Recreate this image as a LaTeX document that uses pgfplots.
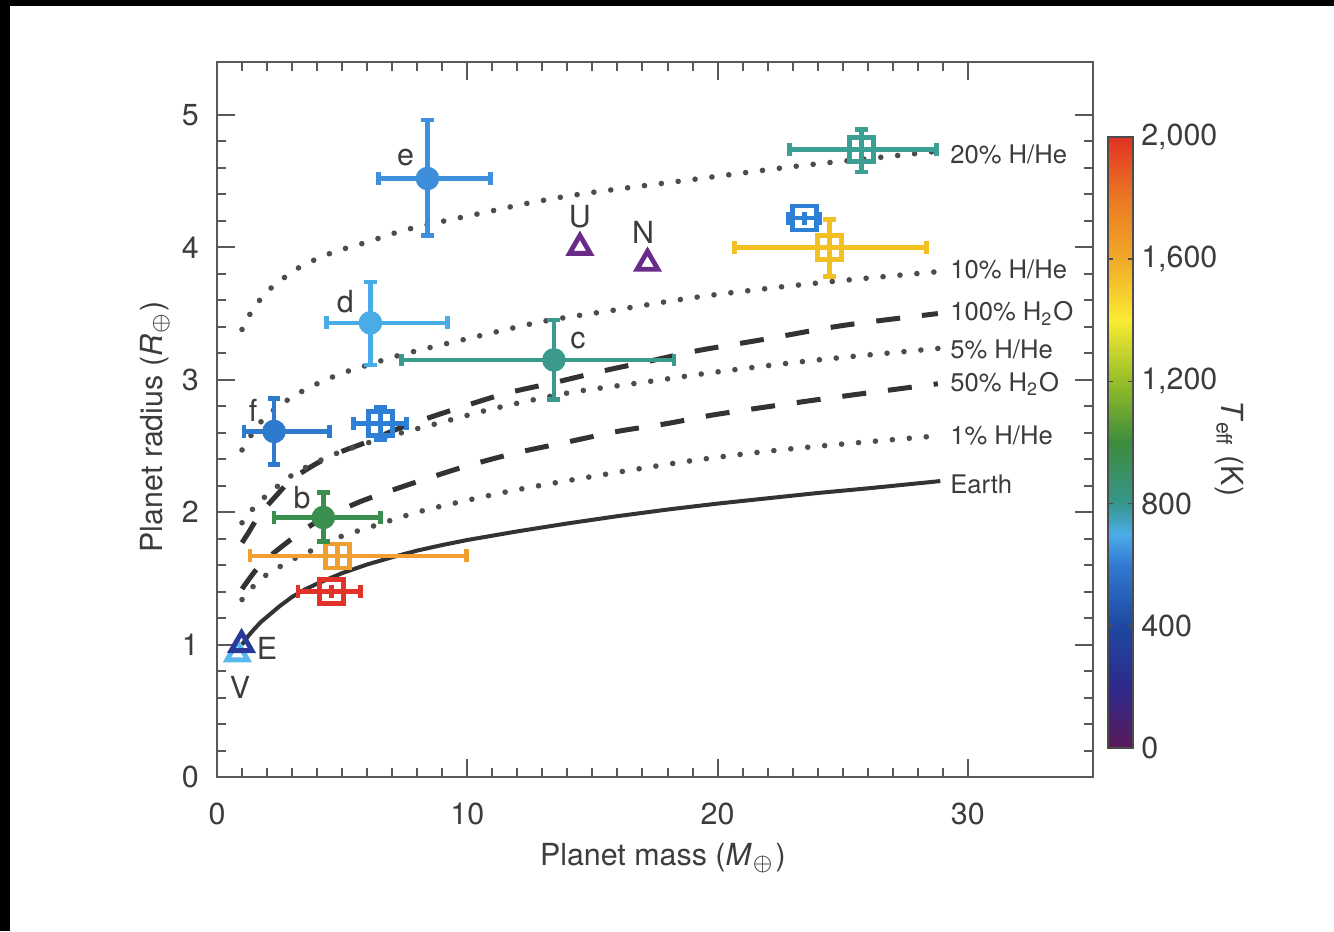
\documentclass[border=0pt]{standalone}
\usepackage{fontspec}
\setmainfont{TeX Gyre Heros}
\usepackage{pgfplots}
\pgfplotsset{compat=1.18}
\definecolor{txt}{HTML}{3C3C3C}
\definecolor{cE}{HTML}{3D8FDC}
\definecolor{cD}{HTML}{4AACE6}
\definecolor{cF}{HTML}{2E7ACC}
\definecolor{cC}{HTML}{3C9A8C}
\definecolor{cB}{HTML}{3A8F4F}
\definecolor{cBS}{HTML}{2E80D6}
\definecolor{cO}{HTML}{F0A030}
\definecolor{cR}{HTML}{E2322A}
\definecolor{cT}{HTML}{3A9E92}
\definecolor{cY}{HTML}{F2C020}
\definecolor{cEarth}{HTML}{2A3A9A}
\definecolor{cV}{HTML}{5AB8EC}
\definecolor{cU}{HTML}{6A2A8A}
\newcommand\tfont{\fontsize{7.6}{9}\selectfont}
\newcommand\cfont{\fontsize{6.4}{7.5}\selectfont}
\pgfplotsset{
  pt/.style={only marks, mark=*, color=#1, mark size=2.75pt,
    error bars/.cd, x dir=both, y dir=both, x explicit, y explicit,
    error bar style={line width=1.1pt, color=#1}, error mark=none},
  sq/.style={only marks, mark=square, color=#1, mark size=3pt,
    mark options={line width=1.1pt},
    error bars/.cd, x dir=both, y dir=both, x explicit, y explicit,
    error bar style={line width=1.1pt, color=#1}, error mark=none},
  capy/.style={only marks, mark=-, mark size=1.6pt, color=#1, mark options={line width=1.1pt}},
  capx/.style={only marks, mark=|, mark size=1.6pt, color=#1, mark options={line width=1.1pt}},
  tri/.style={only marks, mark=triangle, color=#1, mark size=3pt, mark options={line width=1.2pt}},
  dotc/.style={color=black!70, line width=1.4pt, line cap=round, dash pattern=on 0pt off 4.25pt, smooth},
  dashc/.style={color=black!80, line width=1.25pt, dash pattern=on 6pt off 5.5pt, smooth},
}
\begin{document}
\begin{tikzpicture}
\path[use as bounding box] (0,0) rectangle (333.5pt,232.75pt);
\fill[black] (0,0) rectangle (2.5pt,232.75pt);
\fill[black] (0,231.25pt) rectangle (333.5pt,232.75pt);
\begin{axis}[
  at={(54.25pt,38.5pt)}, anchor=south west,
  scale only axis, width=219pt, height=178.75pt,
  xmin=0, xmax=35, ymin=0, ymax=5.4,
  xtick={0,10,20,30}, minor x tick num=9,
  ytick={0,1,2,3,4,5}, minor y tick num=4,
  tick align=inside, major tick length=4.5pt, minor tick length=2.3pt,
  axis line style={color=black!65, line width=0.6pt},
  every tick/.style={color=black!65, line width=0.5pt},
  /pgf/number format/assume math mode=true,
  tick label style={font=\tfont, text=txt},
  xticklabel style={yshift=-3pt},
  yticklabel style={xshift=-1pt},
  xlabel={Planet mass (\textit{M}\textsubscript{$\oplus$})},
  ylabel={Planet radius (\textit{R}\textsubscript{$\oplus$})},
  label style={font=\tfont, text=txt},
  xlabel style={at={(axis description cs:0.509,0)}, anchor=center, yshift=-20.25pt},
  ylabel style={at={(axis description cs:-0.0708,0.49)}, anchor=center},
  colormap={teff}{rgb255(0)=(90,26,90); rgb255(200)=(46,42,140); rgb255(400)=(30,72,160); rgb255(600)=(50,122,210); rgb255(700)=(75,172,232); rgb255(800)=(55,150,140); rgb255(1000)=(60,140,60); rgb255(1200)=(150,190,40); rgb255(1400)=(250,235,50); rgb255(1600)=(240,170,40); rgb255(1800)=(235,120,35); rgb255(2000)=(225,50,35)},
  point meta min=0, point meta max=2000,
  colorbar,
  colorbar style={
    at={(parent axis.south east)}, anchor=south west, xshift=-4.75pt, yshift=7.25pt,
    scale only axis, width=6.25pt, height=152.75pt,
    ytick={0,400,800,1200,1600,2000},
    /pgf/number format/assume math mode=true,
    yticklabel style={font=\tfont, text=txt, xshift=-1.5pt},
    axis line style={color=black!70, line width=0.5pt},
    ytick style={color=black!70, line width=0.4pt},
    major tick length=1.2pt, tick align=inside, ytick pos=both,
    ylabel={\textit{T}\textsubscript{eff} (K)},
    ylabel style={font=\tfont, text=txt, rotate=180, at={(axis description cs:4.84,0.49)}, anchor=center},
  },
  clip=false,
]
% model curves
\addplot[dotc] coordinates {(1,3.38) (1.3,3.49) (1.7,3.6) (2.2,3.7) (3.3,3.85) (4.6,3.96) (6,4.04) (7.3,4.12) (8.6,4.18) (10.6,4.26) (12.6,4.34) (14.8,4.41) (18.9,4.51) (23,4.61) (26.5,4.68) (29,4.73)};
\addplot[dotc] coordinates {(1,2.47) (1.5,2.62) (2,2.73) (3,2.87) (4,2.97) (5,3.05) (6,3.11) (7,3.17) (8,3.22) (10,3.31) (13,3.44) (16,3.53) (19,3.62) (22,3.69) (25,3.75) (29,3.82)};
\addplot[dashc] coordinates {(1,1.77) (1.24,1.84) (1.7,1.98) (2.44,2.14) (3,2.25) (4,2.37) (5,2.46) (5.85,2.52) (7.5,2.65) (9.7,2.79) (11.6,2.9) (13.5,2.98) (15.5,3.07) (17.5,3.15) (19.2,3.22) (22,3.31) (25,3.41) (28.8,3.5)};
\addplot[dotc] coordinates {(1,1.92) (1.5,2.04) (2,2.13) (3,2.28) (4,2.38) (5,2.46) (7,2.58) (9,2.68) (11,2.78) (14,2.9) (17,2.98) (20,3.06) (24,3.15) (29,3.24)};
\addplot[dashc] coordinates {(1,1.42) (1.5,1.55) (2,1.65) (3,1.8) (4,1.93) (5,2.02) (6,2.1) (8,2.23) (10,2.35) (12,2.45) (14,2.53) (16,2.61) (18,2.67) (20,2.74) (24,2.85) (28.8,2.97)};
\addplot[dotc] coordinates {(1,1.34) (1.5,1.45) (2,1.53) (3,1.64) (4,1.73) (5,1.82) (6,1.88) (8,2.0) (10,2.09) (12,2.17) (15,2.27) (19,2.39) (23,2.48) (29,2.58)};
\addplot[color=black!80, line width=1pt, line join=round] coordinates {(1,1.0) (1.25,1.065) (1.5,1.12) (1.75,1.17) (2,1.21) (2.5,1.29) (3,1.36) (3.5,1.415) (4,1.46) (4.5,1.50) (5,1.54) (6,1.605) (7,1.66) (8,1.71) (9,1.752) (10,1.79) (12,1.855) (14,1.915) (16,1.97) (18,2.02) (20,2.065) (22,2.105) (24,2.145) (26,2.18) (28.9,2.235)};
% curve labels
\begin{scope}[every node/.style={font=\cfont, text=txt, anchor=west, inner sep=0pt}]
\node at (axis cs:29.27,4.70) {20\% H/He};
\node at (axis cs:29.27,3.83) {10\% H/He};
\node at (axis cs:29.27,3.50) {100\% H\textsubscript{2}O};
\node at (axis cs:29.27,3.23) {5\% H/He};
\node at (axis cs:29.27,2.97) {50\% H\textsubscript{2}O};
\node at (axis cs:29.27,2.58) {1\% H/He};
\node at (axis cs:29.27,2.21) {Earth};
\end{scope}
% solar system
\addplot[tri=cV] coordinates {(0.815,0.93)};
\addplot[tri=cEarth] coordinates {(0.98,1.0)};
\addplot[tri=cU] coordinates {(14.5,4.0)};
\addplot[tri=cU] coordinates {(17.2,3.88)};
% squares
\addplot[sq=cT] coordinates {(25.75,4.74) += (3.0,0.15) -= (2.88,0.17)};
\addplot[capy=cT] coordinates {(25.75,4.89) (25.75,4.57)};
\addplot[capx=cT] coordinates {(22.87,4.74) (28.75,4.74)};
\addplot[sq=cBS] coordinates {(23.47,4.22) += (0.6,0.05) -= (0.64,0.05)};
\addplot[capx=cBS] coordinates {(22.83,4.22) (24.07,4.22)};
\addplot[sq=cY] coordinates {(24.47,4.0) += (3.88,0.21) -= (3.8,0.22)};
\addplot[capy=cY] coordinates {(24.47,4.21) (24.47,3.78)};
\addplot[capx=cY] coordinates {(20.67,4.0) (28.35,4.0)};
\addplot[sq=cBS] coordinates {(6.53,2.67) += (1.04,0.12) -= (1.08,0.12)};
\addplot[capy=cBS] coordinates {(6.53,2.79) (6.53,2.55)};
\addplot[capx=cBS] coordinates {(5.45,2.67) (7.57,2.67)};
\addplot[sq=cO] coordinates {(4.81,1.67) += (5.16,0.08) -= (3.49,0.1)};
\addplot[capx=cO] coordinates {(1.32,1.67) (9.97,1.67)};
\addplot[sq=cR] coordinates {(4.57,1.40) += (1.16,0.05) -= (1.33,0.05)};
\addplot[capx=cR] coordinates {(3.24,1.40) (5.73,1.40)};
% planets b-f
\addplot[pt=cE] coordinates {(8.41,4.52) += (2.52,0.44) -= (1.96,0.43)};
\addplot[capy=cE] coordinates {(8.41,4.96) (8.41,4.09)};
\addplot[capx=cE] coordinates {(6.45,4.52) (10.93,4.52)};
\addplot[pt=cD] coordinates {(6.13,3.43) += (3.08,0.31) -= (1.76,0.32)};
\addplot[capy=cD] coordinates {(6.13,3.74) (6.13,3.11)};
\addplot[capx=cD] coordinates {(4.37,3.43) (9.21,3.43)};
\addplot[pt=cC] coordinates {(13.46,3.15) += (4.8,0.3) -= (6.09,0.3)};
\addplot[capy=cC] coordinates {(13.46,3.45) (13.46,2.85)};
\addplot[capx=cC] coordinates {(7.37,3.15) (18.26,3.15)};
\addplot[pt=cF] coordinates {(2.28,2.61) += (2.21,0.25) -= (1.2,0.25)};
\addplot[capy=cF] coordinates {(2.28,2.86) (2.28,2.36)};
\addplot[capx=cF] coordinates {(1.08,2.61) (4.49,2.61)};
\addplot[pt=cB] coordinates {(4.25,1.96) += (2.28,0.19) -= (1.97,0.18)};
\addplot[capy=cB] coordinates {(4.25,2.15) (4.25,1.78)};
\addplot[capx=cB] coordinates {(2.28,1.96) (6.53,1.96)};
% point labels
\begin{scope}[every node/.style={font=\tfont, text=txt}]
\node at (axis cs:7.53,4.68) {e};
\node at (axis cs:5.13,3.59) {d};
\node at (axis cs:14.42,3.30) {c};
\node at (axis cs:1.44,2.77) {f};
\node at (axis cs:3.40,2.11) {b};
\node at (axis cs:14.5,4.23) {U};
\node at (axis cs:17.02,4.11) {N};
\node at (axis cs:2.0,0.97) {E};
\node at (axis cs:0.92,0.68) {V};
\end{scope}
\end{axis}
\end{tikzpicture}
\end{document}
